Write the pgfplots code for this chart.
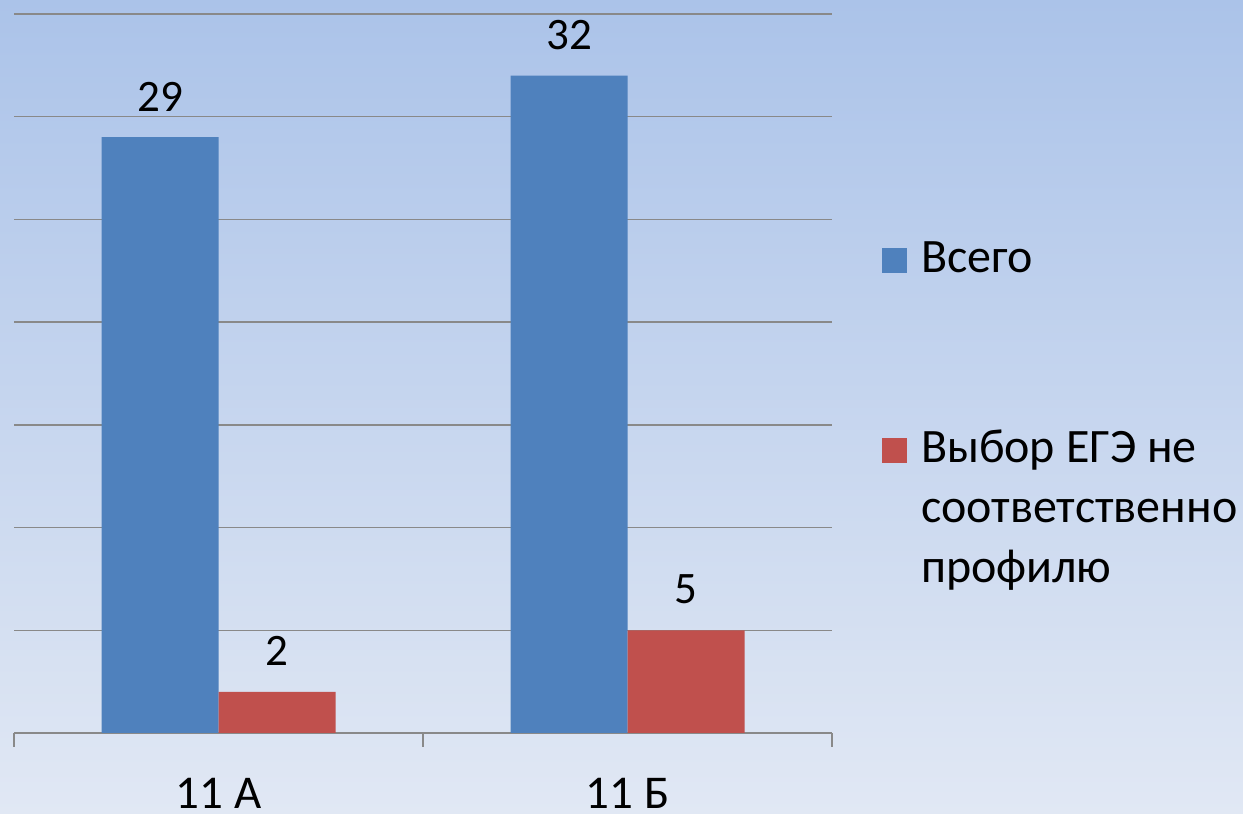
\documentclass[border=0pt]{standalone}
\usepackage{pgfplots}
\pgfplotsset{compat=1.18}
\usepackage{fontspec}
\setmainfont{Carlito}
\definecolor{bgtop}{RGB}{171,195,233}
\definecolor{bgbot}{RGB}{225,232,244}
\definecolor{barblue}{RGB}{79,129,189}
\definecolor{barred}{RGB}{192,80,77}
\definecolor{gridgray}{RGB}{137,137,137}
\begin{document}
\begin{tikzpicture}[x=1bp,y=1bp]
\shade[top color=bgtop, bottom color=bgbot] (0,0) rectangle (1243,814);
\useasboundingbox (0,0) rectangle (1243,814);
\begin{axis}[
  at={(14bp,81bp)}, anchor=south west,
  width=818bp, height=719bp, scale only axis,
  xmin=-0.5, xmax=1.5, ymin=0, ymax=35,
  ybar=0pt, bar width=117bp,
  /pgf/number format/assume math mode=true,
  axis line style={draw=none},
  xtick={0,1}, xticklabels={11 A, 11 Б},
  major x tick style={draw=none},
  major tick length=0bp,
  minor xtick={-0.5,0.5,1.5},
  minor x tick style={draw=gridgray, line width=1.5bp},
  minor tick length=14bp,
  tick align=outside, xtick pos=bottom,
  ytick={0,5,...,35}, yticklabels={},
  major y tick style={draw=none},
  ymajorgrids, grid style={draw=gridgray, line width=1.5bp},
  xticklabel style={font=\fontsize{47bp}{56bp}\selectfont, inner sep=0pt, anchor=north, yshift=-45bp},
  nodes near coords,
  every node near coord/.append style={font=\fontsize{45bp}{54bp}\selectfont, text=black, inner sep=0pt, anchor=south, yshift=26bp},
  legend style={draw=none, fill=none, inner sep=0pt, outer sep=0pt,
    at={(1,1)}, anchor=north west, xshift=50bp, yshift=-228bp,
    font=\fontsize{48bp}{60bp}\selectfont,
    nodes={inner sep=0pt}, column sep=14bp, row sep=156bp,
    cells={anchor=base west}},
  legend image code/.code={\fill[#1] (0bp,0bp) rectangle (25bp,25bp);},
]
\addplot[fill=barblue, draw=none] coordinates {(0,29) (1,32)};
\addlegendentry{Всего}
\addplot[fill=barred, draw=none] coordinates {(0,2) (1,5)};
\addlegendentry{\vtop{\baselineskip=60bp\hbox{Выбор ЕГЭ не}\hbox{соответственно}\hbox{профилю}}}
\end{axis}
\end{tikzpicture}
\end{document}
